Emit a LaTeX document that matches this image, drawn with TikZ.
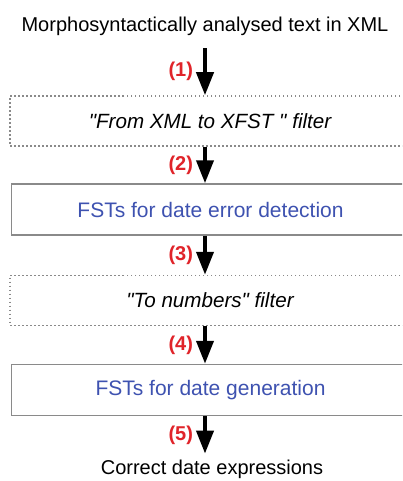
\documentclass[tikz,border=0pt]{standalone}
\usepackage{fontspec}
\setmainfont{Liberation Sans}[Ligatures=TeXOff]
\usepackage{tikz}
\usetikzlibrary{arrows.meta, positioning, calc}
\definecolor{stepred}{HTML}{E0242A}
\definecolor{fstblue}{HTML}{3E52B0}
\definecolor{framegray}{HTML}{8A8A8A}

\begin{document}
\begin{tikzpicture}[
  x=0.5pt, y=-0.5pt,
  every node/.style={font=\fontsize{10pt}{12pt}\selectfont},
  filterbox/.style={rectangle, draw=framegray, line width=0.75pt, dash pattern=on 0.75pt off 1.25pt, minimum width=200pt, minimum height=25pt, inner sep=0pt, font=\fontsize{10.3pt}{12pt}\selectfont\itshape},
  fstbox/.style={rectangle, draw=framegray, line width=0.75pt, minimum width=199pt, minimum height=25.5pt, inner sep=0pt, text=fstblue, font=\fontsize{10.5pt}{12pt}\selectfont},
  flow/.style={line width=2pt, -{Triangle[length=11.5pt, width=8.5pt]}},
  steplabel/.style={midway, left=5pt, inner sep=0pt, text=stepred, font=\fontsize{10pt}{12pt}\selectfont\bfseries}
]
  \clip (0,0) rectangle (402,481);
  \useasboundingbox (0,0) rectangle (402,481);
  \node (input) at (205,26) {Morphosyntactically analysed text in XML};
  \node[filterbox] (xmlfilter) at (210,121) {"From XML to XFST " filter};
  \node[fstbox] (detect) at (210.5,209.5) {FSTs for date error detection};
  \node[filterbox] (numfilter) at (210,300.5) {"To numbers" filter};
  \node[fstbox] (generate) at (210.5,390) {FSTs for date generation};
  \node (output) at (212,469) {Correct date expressions};
  \coordinate (axis) at (205,0);
  % arrows down the pipeline
  \draw[flow] (input.south -| axis) ++(0,6) -- (xmlfilter.north -| axis) node[steplabel] {(1)};
  \draw[flow] (xmlfilter.south -| axis) -- (detect.north -| axis) node[steplabel] {(2)};
  \draw[flow] (detect.south -| axis) -- (numfilter.north -| axis) node[steplabel] {(3)};
  \draw[flow] (numfilter.south -| axis) -- (generate.north -| axis) node[steplabel] {(4)};
  \draw[flow] (generate.south -| axis) -- ($(output.north -| axis)+(0,1)$) node[steplabel] {(5)};
\end{tikzpicture}
\end{document}
